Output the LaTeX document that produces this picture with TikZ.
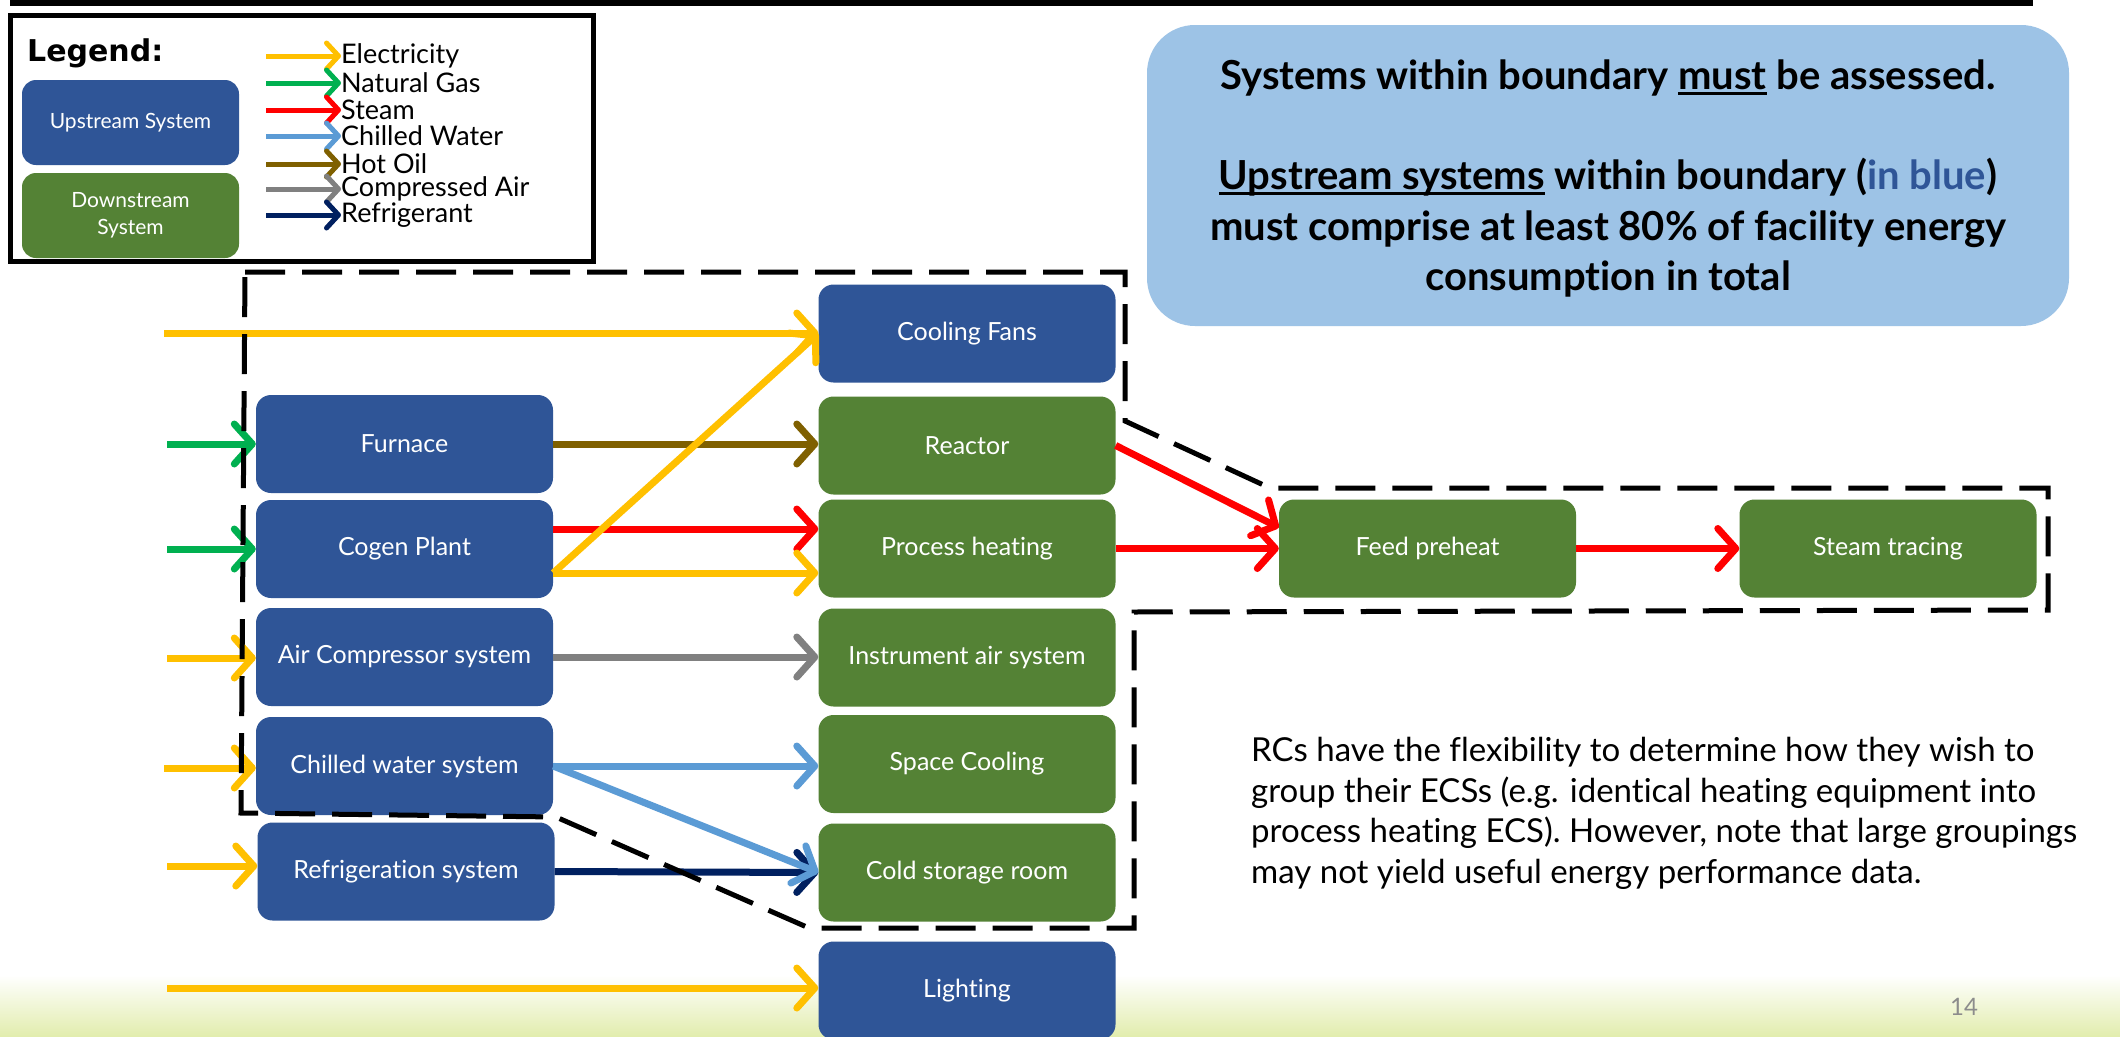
\documentclass[tikz,border=0pt]{standalone}
\usepackage{fontspec}
\usetikzlibrary{arrows.meta}
\newfontfamily\tw[Ligatures=NoCommon]{Lato}
\newfontfamily\legfont{DejaVu Sans}
\newcommand{\myul}[1]{\leavevmode\setbox0=\hbox{#1}\rlap{\rule[-5pt]{\wd0}{2.5pt}}\box0\relax}
\definecolor{ublue}{RGB}{47,85,151}
\definecolor{dgreen}{RGB}{84,130,53}
\definecolor{elec}{RGB}{255,192,0}
\definecolor{gas}{RGB}{0,176,80}
\definecolor{steamc}{RGB}{255,0,0}
\definecolor{chw}{RGB}{91,155,213}
\definecolor{oil}{RGB}{127,96,0}
\definecolor{cair}{RGB}{128,128,128}
\definecolor{refr}{RGB}{0,32,96}
\definecolor{infob}{RGB}{157,195,230}
\definecolor{pgnum}{RGB}{140,140,140}
\definecolor{footg}{RGB}{226,237,174}
\tikzset{
  sysbox/.style={rounded corners=15pt, minimum width=297pt, minimum height=98pt, inner sep=0pt, text=white, font=\tw\fontsize{25}{30}\selectfont},
  upbox/.style={sysbox, fill=ublue},
  downbox/.style={sysbox, fill=dgreen},
  flow/.style={line width=7pt, -{Straight Barb[round, length=18pt, width=40pt]}},
  legflow/.style={line width=5pt, -{Straight Barb[round, length=12pt, width=26pt]}},
  leglabel/.style={anchor=west, inner sep=0pt, font=\tw\fontsize{27}{27}\selectfont},
  legbox/.style={rounded corners=14pt, minimum width=217pt, minimum height=85pt, inner sep=0pt, text=white, align=center, font=\tw\fontsize{21}{27}\selectfont},
  boundary/.style={line width=5pt, dash pattern=on 40pt off 17pt}
}
\begin{document}
\begin{tikzpicture}[x=1pt,y=-1pt]
\useasboundingbox (0,0) rectangle (2120,1036);
\fill[white] (0,0) rectangle (2120,1036);
\shade[top color=white, bottom color=footg] (0,975) rectangle (2120,1036);
\fill[black] (10,0) rectangle (2033,6);

% legend
\draw[line width=5pt] (10.5,15.5) rectangle (593,261);
\node[anchor=west, inner sep=0pt, font=\legfont\bfseries\fontsize{30}{36}\selectfont] (legtitle) at (27,53) {Legend:};
\node[legbox, fill=ublue] (legup) at (130.5,122.5) {Upstream System};
\node[legbox, fill=dgreen] (legdown) at (130.5,215.5) {Downstream\\System};
\foreach \y/\c/\t/\n in {56/elec/Electricity/l1, 83/gas/Natural Gas/l2, 110/steamc/Steam/l3, 136/chw/Chilled Water/l4, 164/oil/Hot Oil/l5, 189/cair/Compressed Air/l6, 215/refr/Refrigerant/l7}{
  \node[leglabel] (\n) at (341,\y) {\t};
  \coordinate (\n s) at (266,\y);
  \draw[legflow, draw=\c] (\n s) -- (\n.west);
}

% info box
\node[fill=infob, rounded corners=48pt, minimum width=922pt, minimum height=301pt, inner sep=0pt] (info) at (1608,175.5) {};
\node[font=\tw\bfseries\fontsize{40}{50}\selectfont, inner sep=0pt] (info1) at (1608,78) {Systems within boundary \myul{must} be assessed.};
\node[font=\tw\bfseries\fontsize{40}{50.5}\selectfont, inner sep=0pt, align=center] (info2) at (1608,228) {\myul{Upstream systems} within boundary (\textcolor{ublue}{in blue})\\must comprise at least 80\% of facility energy\\consumption in total};

% note
\node[anchor=west, inner sep=0pt, align=left, font=\tw\fontsize{33}{40.5}\selectfont] (note) at (1251,813.5) {RCs have the flexibility to determine how they wish to\\group their ECSs (e.g. identical heating equipment into\\process heating ECS). However, note that large groupings\\may not yield useful energy performance data.};

\node[font=\tw\fontsize{24}{28}\selectfont, text=pgnum, inner sep=0pt] (pnum) at (1964,1007) {14};

% upstream column
\node[upbox] (furnace) at (404.5,444) {Furnace};
\node[upbox] (cogen) at (404.5,549) {Cogen Plant};
\node[upbox] (aircomp) at (404.5,657) {Air Compressor system};
\node[upbox] (chilled) at (404.5,766) {Chilled water system};
\node[upbox] (refrig) at (406,871.5) {Refrigeration system};

% downstream column
\node[upbox] (fans) at (967,333.5) {Cooling Fans};
\node[downbox] (reactor) at (967,445.5) {Reactor};
\node[downbox] (proc) at (967,548.5) {Process heating};
\node[downbox] (instr) at (967,657.5) {Instrument air system};
\node[downbox] (space) at (967,764) {Space Cooling};
\node[downbox] (cold) at (967,872.5) {Cold storage room};
\node[upbox] (light) at (967,990.5) {Lighting};
\node[downbox] (feed) at (1427.5,548.5) {Feed preheat};
\node[downbox] (tracing) at (1888,548.5) {Steam tracing};

% inputs
\coordinate (inFans) at (164,333);
\coordinate (inFur) at (167,444);
\coordinate (inCog) at (167,549);
\coordinate (inAir) at (167,658);
\coordinate (inChw) at (164,768);
\coordinate (inRef) at (167,866);
\coordinate (inLight) at (167,988);
\draw[flow, draw=elec] (inFans) -- (inFans -| fans.west);
\draw[flow, draw=gas] (inFur) -- (furnace.west);
\draw[flow, draw=gas] (inCog) -- (cogen.west);
\draw[flow, draw=elec] (inAir) -- (inAir -| aircomp.west);
\draw[flow, draw=elec] (inChw) -- (inChw -| chilled.west);
\draw[flow, draw=elec] (inRef) -- (inRef -| refrig.west);
\draw[flow, draw=elec] (inLight) -- (inLight -| light.west);

% flows
\draw[flow, draw=oil] (furnace.east) -- (furnace.east -| reactor.west);
\draw[flow, draw=steamc] ([yshift=20pt]cogen.east) -- ([yshift=20pt]cogen.east -| proc.west);
\draw[flow, draw=elec] ([yshift=-24pt]cogen.east) -- ([yshift=-24pt]cogen.east -| proc.west);
\draw[flow, draw=elec] ([yshift=-24pt]cogen.east) -- (fans.west);
\draw[flow, draw=cair] (aircomp.east) -- (aircomp.east -| instr.west);
\draw[flow, draw=refr] (refrig.east) -- (cold.west);
\draw[flow, draw=chw] (chilled.east) -- (chilled.east -| space.west);
\draw[flow, draw=chw] (chilled.east) -- (cold.west);
\draw[flow, draw=steamc] (reactor.east) -- ([yshift=21pt]feed.west);
\draw[flow, draw=steamc] (proc.east) -- (feed.west);
\draw[flow, draw=steamc] (feed.east) -- (tracing.west);

% boundary
\draw[boundary] (245,272) -- (1125,272) -- (1125,421) -- (1270,488) -- (2048,488) -- (2048,610) -- (1134,612) -- (1134,928) -- (809,928) -- (556,817) -- (241,813) -- cycle;
\end{tikzpicture}
\end{document}
